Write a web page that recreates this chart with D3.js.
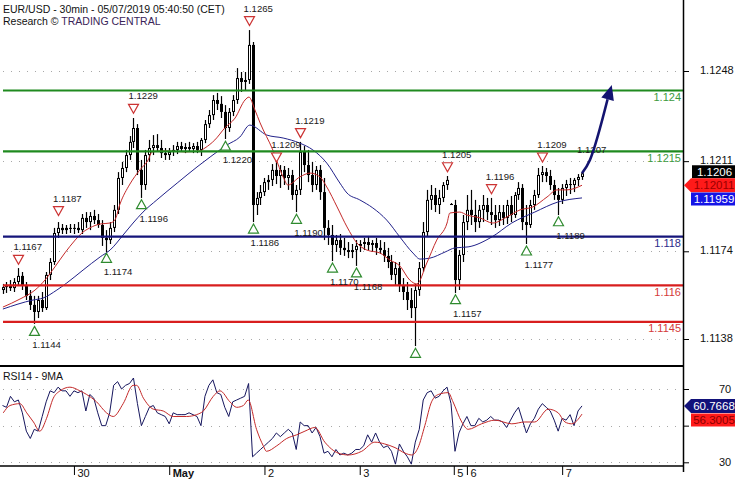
<!DOCTYPE html>
<html><head><meta charset="utf-8">
<script src="https://cdn.jsdelivr.net/npm/d3@7"></script>
<style>body{margin:0;background:#fff}svg{display:block}</style>
</head><body><svg id="c" width="735" height="480"></svg>
<script>
// ---------- DATA (hourly bars) ----------
const opens=[1.11581,1.11593,1.11602,1.11589,1.11614,1.11639,1.11598,1.11557,1.11520,1.11491,
1.11540,1.11507,1.11643,1.11696,1.11815,1.11836,1.11827,1.11836,1.11832,1.11836,
1.11827,1.11877,1.11860,1.11885,1.11868,1.11848,1.11795,1.11786,1.11836,1.11910,
1.12041,1.12082,1.12135,1.12189,1.12246,1.12074,1.12012,1.12135,1.12164,1.12176,
1.12164,1.12143,1.12135,1.12148,1.12156,1.12172,1.12160,1.12168,1.12160,1.12172,
1.12156,1.12197,1.12262,1.12299,1.12361,1.12345,1.12312,1.12246,1.12312,1.12361,
1.12451,1.12435,1.12443,1.12587,1.11930,1.11959,1.11983,1.12024,1.12033,1.12074,
1.12049,1.12074,1.12041,1.12053,1.11971,1.11992,1.12148,1.12094,1.12053,1.12012,
1.12074,1.11983,1.11836,1.11807,1.11766,1.11786,1.11754,1.11745,1.11737,1.11745,
1.11762,1.11770,1.11778,1.11766,1.11774,1.11754,1.11745,1.11721,1.11696,1.11643,
1.11671,1.11598,1.11573,1.11540,1.11507,1.11581,1.11671,1.11819,1.11951,1.11971,
1.11930,1.11959,1.12012,1.11934,1.11930,1.11622,1.11725,1.11860,1.11910,1.11889,
1.11860,1.11910,1.11930,1.11901,1.11889,1.11868,1.11901,1.11877,1.11930,1.11889,
1.11971,1.12000,1.11860,1.11848,1.11930,1.11971,1.12053,1.12065,1.12049,1.12012,
1.11971,1.11951,1.12000,1.12016,1.12012,1.12033,1.12045];
const highs=[1.11606,1.11614,1.11622,1.11630,1.11671,1.11655,1.11614,1.11581,1.11557,1.11557,
1.11573,1.11655,1.11712,1.11836,1.11860,1.11852,1.11848,1.11852,1.11852,1.11860,
1.11893,1.11901,1.11901,1.11910,1.11893,1.11868,1.11827,1.11860,1.11930,1.12065,
1.12107,1.12156,1.12213,1.12287,1.12262,1.12115,1.12156,1.12197,1.12217,1.12221,
1.12197,1.12164,1.12164,1.12176,1.12189,1.12189,1.12184,1.12189,1.12184,1.12189,
1.12205,1.12279,1.12320,1.12381,1.12390,1.12377,1.12340,1.12328,1.12381,1.12492,
1.12476,1.12476,1.12648,1.12599,1.11983,1.12012,1.12041,1.12053,1.12098,1.12107,
1.12094,1.12090,1.12082,1.12074,1.12012,1.12189,1.12172,1.12156,1.12107,1.12090,
1.12094,1.12041,1.11868,1.11848,1.11807,1.11811,1.11795,1.11778,1.11770,1.11786,
1.11786,1.11795,1.11803,1.11786,1.11795,1.11786,1.11778,1.11754,1.11725,1.11696,
1.11696,1.11630,1.11614,1.11589,1.11606,1.11696,1.11860,1.11992,1.12012,1.12000,
1.11992,1.12024,1.12049,1.11938,1.11951,1.11745,1.11889,1.11971,1.11992,1.11951,
1.11930,1.11971,1.11959,1.11959,1.11930,1.11930,1.11930,1.11951,1.11967,1.11983,
1.12024,1.12016,1.11930,1.11951,1.11992,1.12082,1.12090,1.12082,1.12074,1.12033,
1.12000,1.12016,1.12033,1.12041,1.12041,1.12057,1.12065];
const lows=[1.11565,1.11569,1.11577,1.11573,1.11598,1.11581,1.11540,1.11499,1.11442,1.11466,
1.11491,1.11499,1.11622,1.11684,1.11795,1.11811,1.11811,1.11815,1.11811,1.11815,
1.11811,1.11836,1.11827,1.11852,1.11836,1.11762,1.11737,1.11770,1.11819,1.11893,
1.12012,1.12065,1.12115,1.12164,1.12053,1.11959,1.11992,1.12107,1.12135,1.12148,
1.12123,1.12115,1.12115,1.12131,1.12139,1.12148,1.12143,1.12148,1.12143,1.12143,
1.12131,1.12184,1.12246,1.12279,1.12320,1.12287,1.12201,1.12230,1.12295,1.12345,
1.12394,1.12402,1.12427,1.11860,1.11889,1.11930,1.11967,1.11992,1.12008,1.12016,
1.12000,1.12012,1.11992,1.11951,1.11901,1.11971,1.12065,1.12024,1.11983,1.11992,
1.11951,1.11786,1.11766,1.11700,1.11737,1.11725,1.11721,1.11712,1.11712,1.11680,
1.11737,1.11745,1.11745,1.11737,1.11725,1.11729,1.11696,1.11671,1.11622,1.11602,
1.11573,1.11540,1.11499,1.11466,1.11351,1.11557,1.11655,1.11803,1.11910,1.11901,
1.11893,1.11942,1.11992,1.11930,1.11569,1.11581,1.11696,1.11827,1.11848,1.11819,
1.11836,1.11860,1.11868,1.11848,1.11836,1.11844,1.11848,1.11852,1.11860,1.11877,
1.11951,1.11827,1.11770,1.11836,1.11910,1.11959,1.12024,1.12024,1.11992,1.11951,
1.11889,1.11934,1.11967,1.11975,1.11983,1.12008,1.12033];
const closes=[1.11593,1.11602,1.11589,1.11614,1.11639,1.11598,1.11557,1.11520,1.11491,1.11540,
1.11507,1.11643,1.11696,1.11815,1.11836,1.11827,1.11836,1.11832,1.11836,1.11827,
1.11877,1.11860,1.11885,1.11868,1.11848,1.11795,1.11786,1.11836,1.11910,1.12041,
1.12082,1.12135,1.12189,1.12246,1.12074,1.12012,1.12135,1.12164,1.12176,1.12164,
1.12143,1.12135,1.12148,1.12156,1.12172,1.12160,1.12168,1.12160,1.12172,1.12156,
1.12197,1.12262,1.12299,1.12361,1.12345,1.12312,1.12246,1.12312,1.12361,1.12451,
1.12435,1.12443,1.12587,1.11930,1.11959,1.11983,1.12024,1.12033,1.12074,1.12049,
1.12074,1.12041,1.12053,1.11971,1.11992,1.12148,1.12094,1.12053,1.12012,1.12074,
1.11983,1.11836,1.11807,1.11766,1.11786,1.11754,1.11745,1.11737,1.11745,1.11762,
1.11770,1.11778,1.11766,1.11774,1.11754,1.11745,1.11721,1.11696,1.11643,1.11671,
1.11598,1.11573,1.11540,1.11507,1.11581,1.11671,1.11819,1.11951,1.11971,1.11930,
1.11959,1.12012,1.12033,1.11934,1.11622,1.11725,1.11860,1.11910,1.11889,1.11860,
1.11910,1.11930,1.11901,1.11889,1.11868,1.11901,1.11877,1.11930,1.11889,1.11971,
1.12000,1.11860,1.11848,1.11930,1.11971,1.12053,1.12065,1.12049,1.12012,1.11971,
1.11951,1.12000,1.12016,1.12012,1.12033,1.12045,1.12060];

// moving averages: [bar index, value]
const redMA=[[0.1,1.11511],[4.4,1.11544],[8.2,1.11581],[10.7,1.11622],[13.2,1.11676],[15.7,1.11733],[18.3,1.11786],[20,1.11815],[22,1.11836],[24.6,1.11852],[27.1,1.11856],[28.3,1.11868],[29.6,1.11934],[32.1,1.12016],[34.6,1.12074],[36.7,1.12115],[37.7,1.12148],[40.9,1.12152],[46,1.12148],[49.7,1.12152],[51,1.12164],[53.5,1.12197],[56,1.12246],[58.6,1.12287],[61.1,1.12361],[62.1,1.12373],[63.6,1.12320],[64.9,1.12267],[68.1,1.12156],[70.7,1.12045],[71.9,1.12012],[74.9,1.12045],[77.5,1.12061],[80,1.12045],[81.7,1.12004],[84.3,1.11922],[86.8,1.11840],[89.3,1.11774],[91.8,1.11745],[95.1,1.11733],[97.6,1.11704],[100.1,1.11680],[102.6,1.11622],[104.4,1.11606],[106.9,1.11692],[109.4,1.11786],[112,1.11856],[112.7,1.11897],[115.2,1.11901],[117,1.11889],[120.3,1.11877],[123.5,1.11856],[127.1,1.11881],[130.4,1.11910],[133.6,1.11922],[137.2,1.11963],[139.7,1.11992],[142.2,1.11992],[146,1.12011]];
const blueMA=[[0.1,1.11503],[7.7,1.11540],[10.2,1.11548],[13.7,1.11581],[16.2,1.11610],[20.3,1.11663],[24.6,1.11717],[27.1,1.11745],[30.4,1.11807],[32.9,1.11856],[35.4,1.11901],[38.9,1.11951],[44,1.12020],[49,1.12086],[52.3,1.12127],[56.5,1.12176],[59.8,1.12209],[62.3,1.12258],[66.6,1.12217],[70.7,1.12205],[74.9,1.12184],[78.2,1.12156],[81.7,1.12102],[85,1.12020],[86.8,1.11979],[90,1.11951],[93.3,1.11918],[96.8,1.11868],[100.1,1.11799],[103.4,1.11733],[105.2,1.11708],[107.7,1.11712],[111.5,1.11737],[114,1.11754],[117.3,1.11758],[123.3,1.11799],[128.3,1.11856],[134.1,1.11901],[139.9,1.11942],[146,1.11959]];

const rsi=[61,60,66,63,64,57,47,43,48,47, 55,63,69,68,71,69,69,66,69,68,
69,58,67,65,57,50,50,57,72,74, 70,72,73,76,62,50,55,60,61,57,
56,55,51,57,56,56,56,57,56,55, 50,66,72,75,68,67,60,55,63,64,
65,66,73,33,35,37,39,41,43,46, 44,46,48,46,37,52,50,50,46,49,
44,35,36,33,37,34,35,34,35,37, 37,39,45,41,46,41,38,39,36,29,
40,36,33,29,41,48,64,68,69,65, 66,69,71,62,36,46,51,55,50,50,
54,52,53,55,53,53,52,49,53,57, 60,53,46,51,54,59,62,60,58,53,
47,54,53,56,50,58,60.7668];
const rsiMA=[[0.2,57],[1.9,61],[4.4,62],[6.1,57],[7.8,52],[9.4,47],[11.1,54],[12.8,65],[14.5,69],[17,71],[19.5,69],[21.2,67],[23.7,63],[26.2,57],[27.9,55],[30.4,62],[32.9,72],[33.8,72],[35.5,65],[38,59],[40.5,58],[43,55],[46.4,55],[48.9,56],[50.6,58],[53.1,66],[54.8,69],[57.3,63],[59,60],[60.7,61],[61.9,64],[64,48],[65.7,39],[66.5,36],[69.1,39],[71.6,43],[74.1,45],[76.2,47],[78.7,49],[81.2,41],[84.6,35],[87.1,34],[90.5,36],[93.8,41],[96.3,40],[98.9,38],[101.4,35],[103.1,34],[104.7,38],[106.4,50],[108.1,63],[109.8,67],[112.3,68],[113.5,63],[115.7,52],[117.3,48],[120.7,51],[124.1,53],[128.3,51],[131.6,52],[134.1,52],[137.5,59],[140,57],[141.7,52],[143.4,51],[146,56.3005]];

const levelValues=[1.124,1.1215,1.118,1.116,1.1145];
const levelLabels=["1.124","1.1215","1.118","1.116","1.1145"];
const levelTypes=["resistance","resistance","pivot","support","support"];

const markerIdx=[4,8,14,26,33,35,56,62,63,69,74,75,83,89,104,112,114,123,132,136,140];
const markerPrice=[1.1167,1.1144,1.1187,1.1174,1.1229,1.1196,1.1220,1.1265,1.1186,1.1209,1.1190,1.1219,1.1170,1.1168,1.1135,1.1205,1.1157,1.1196,1.1177,1.1209,1.1189];
const markerType=["H","L","H","L","H","L","L","H","L","H","L","H","L","L","L","H","L","H","L","H","L"];
const pendingHighIdx=146, pendingHighPrice=1.1207;

const forecastIdx=[146,148,153.5];
const forecastPrice=[1.1206,1.12115,1.12423];

const priceTicks=[1.1248,1.1211,1.1174,1.1138];
const rsiTicks=[70,50,30];
const rsiTickLabels=["70","","30"];
const dayTicks=[18,42,66,90,113.7,117,141];
const dayLabels=["30","May","2","3","5","6","7"];

const lastClose=1.1206, lastRed=1.12011, lastBlue=1.11959, lastRSI=60.7668, lastRSIMA=56.3005;

// ---------- DRAWING ----------
const FONT='"Liberation Sans", Arial, sans-serif';
const svg=d3.select("#c");
const W=735,H=480,AX=683,MAINB=365;
const x=d3.scaleLinear().domain([0,146]).range([2.5,582]);
const y=d3.scaleLinear().domain([1.1138,1.1248]).range([339,71]);
const yr=d3.scaleLinear().domain([30,70]).range([462.3,389]);

svg.append("rect").attr("width",W).attr("height",H).attr("fill","#fff");
const defs=svg.append("defs");
defs.append("clipPath").attr("id","mc").append("rect").attr("x",0).attr("y",0).attr("width",AX).attr("height",MAINB);
defs.append("clipPath").attr("id","rc").append("rect").attr("x",0).attr("y",367).attr("width",AX).attr("height",98);

const main=svg.append("g").attr("clip-path","url(#mc)");
// dotted grid
main.selectAll(".g").data(priceTicks).join("line")
  .attr("x1",3).attr("x2",AX).attr("y1",d=>Math.round(y(d))+0.5).attr("y2",d=>Math.round(y(d))+0.5)
  .attr("stroke","#a8a8a8").attr("stroke-dasharray","1,7");

// candles
const bars=closes.map((c,i)=>({i,o:opens[i],h:highs[i],l:lows[i],c}));
main.selectAll(".wk").data(bars).join("line")
  .attr("x1",d=>Math.round(x(d.i))+0.5).attr("x2",d=>Math.round(x(d.i))+0.5)
  .attr("y1",d=>y(d.h)).attr("y2",d=>y(d.l)).attr("stroke","#000").attr("stroke-width",1.2);
main.selectAll(".bd").data(bars).join("rect")
  .attr("x",d=>Math.round(x(d.i))-1).attr("width",3)
  .attr("y",d=>y(Math.max(d.o,d.c))).attr("height",d=>Math.max(1,Math.abs(y(d.o)-y(d.c))))
  .attr("fill","#000");
main.selectAll(".hl").data(bars.filter(d=>d.c>d.o && y(d.o)-y(d.c)>2.5)).join("rect")
  .attr("x",d=>Math.round(x(d.i))).attr("width",1)
  .attr("y",d=>y(d.c)+1).attr("height",d=>y(d.o)-y(d.c)-2).attr("fill","#fff");

// moving averages
const lineP=d3.line().x(d=>x(d[0])).y(d=>y(d[1])).curve(d3.curveMonotoneX);
main.append("path").datum(blueMA).attr("d",lineP).attr("fill","none").attr("stroke","#22228a").attr("stroke-width",1);
main.append("path").datum(redMA).attr("d",lineP).attr("fill","none").attr("stroke","#c42a2a").attr("stroke-width",1);

// levels
const levelColor={resistance:"#1f8a1f",pivot:"#15157a",support:"#d81e1e"};
const labelColor={resistance:"#3d9a3d",pivot:"#2b2b8a",support:"#d43a3a"};
main.selectAll(".lv").data(levelValues).join("line")
  .attr("x1",3).attr("x2",AX).attr("y1",d=>y(d)).attr("y2",d=>y(d))
  .attr("stroke",(d,i)=>levelColor[levelTypes[i]]).attr("stroke-width",2.2);
main.selectAll(".lvt").data(levelValues).join("text")
  .attr("x",AX-2).attr("y",d=>y(d)+10.5).attr("text-anchor","end")
  .attr("font-family",FONT).attr("font-size",11)
  .attr("fill",(d,i)=>labelColor[levelTypes[i]]).text((d,i)=>levelLabels[i]);

// markers
const mk=markerIdx.map((d,i)=>({i:d,p:markerPrice[i],t:markerType[i]}));
main.selectAll(".tri").data(mk).join("path")
  .attr("d",d=>{const cx=Math.round(x(d.i))+0.5,py=y(d.p);
    if(d.t==="H"){const a=py-13,b=py-4;return `M${cx-5},${a}L${cx+5},${a}L${cx},${b}Z`;}
    const a=py+2,b=py+11;return `M${cx},${a}L${cx+5},${b}L${cx-5},${b}Z`;})
  .attr("fill","#fff").attr("stroke",d=>d.t==="H"?"#cc3333":"#2e8a2e").attr("stroke-width",1.2);
const labY=d=>d.t==="H"?y(d.p)-18:y(d.p)+24;
main.selectAll(".mt").data(mk.filter(d=>labY(d)<MAINB)).join("text")
  .attr("x",d=>x(d.i)-(d.t==="H"?5:2)).attr("y",labY)
  .attr("font-family",FONT).attr("font-size",9.6).attr("fill","#1a1a1a")
  .text(d=>d.p.toFixed(4));
main.append("text").attr("x",x(pendingHighIdx)-5).attr("y",y(pendingHighPrice)-18)
  .attr("font-family",FONT).attr("font-size",9.6).attr("fill","#1a1a1a").text(pendingHighPrice.toFixed(4));

// forecast arrow
const fp=forecastIdx.map((d,i)=>[x(d),y(forecastPrice[i])]);
const tip=fp[fp.length-1], prv=fp[fp.length-2];
let dx=tip[0]-prv[0], dy=tip[1]-prv[1]; const L=Math.hypot(dx,dy); dx/=L; dy/=L;
const base=[tip[0]-dx*15,tip[1]-dy*15];
const shaft=fp.slice(0,-1).concat([base]);
main.append("path").datum(shaft).attr("d",d3.line().curve(d3.curveCatmullRom))
  .attr("fill","none").attr("stroke","#141470").attr("stroke-width",2.6);
main.append("path").attr("d",`M${tip[0]},${tip[1]}L${base[0]-dy*6.5},${base[1]+dx*6.5}L${base[0]+dy*6.5},${base[1]-dx*6.5}Z`)
  .attr("fill","#141470");

// RSI panel
const rg=svg.append("g").attr("clip-path","url(#rc)");
rg.selectAll(".g").data(rsiTicks).join("line")
  .attr("x1",3).attr("x2",AX).attr("y1",d=>Math.round(yr(d))+0.5).attr("y2",d=>Math.round(yr(d))+0.5)
  .attr("stroke","#a8a8a8").attr("stroke-dasharray","1,7");
rg.append("path").datum(rsi).attr("d",d3.line().x((d,i)=>x(i)).y(d=>yr(d)))
  .attr("fill","none").attr("stroke","#16165e").attr("stroke-width",1);
rg.append("path").datum(rsiMA).attr("d",d3.line().x(d=>x(d[0])).y(d=>yr(d[1])).curve(d3.curveMonotoneX))
  .attr("fill","none").attr("stroke","#c42a2a").attr("stroke-width",1);
svg.append("text").attr("x",3).attr("y",380).attr("font-family",FONT).attr("font-size",10.5).attr("fill","#111").text("RSI14 - 9MA");

// frame lines
svg.append("line").attr("x1",0).attr("x2",AX).attr("y1",366).attr("y2",366).attr("stroke","#000").attr("stroke-width",2);
svg.append("line").attr("x1",0).attr("x2",AX).attr("y1",466).attr("y2",466).attr("stroke","#000").attr("stroke-width",1.5);
svg.append("line").attr("x1",AX+0.5).attr("x2",AX+0.5).attr("y1",0).attr("y2",472).attr("stroke","#000").attr("stroke-width",1.5);

// axes
const styleAxis=g=>{g.select(".domain").remove();g.attr("font-family",FONT).attr("font-size",11);g.selectAll("text").attr("fill","#111");};
svg.append("g").attr("transform",`translate(${AX},0)`)
  .call(d3.axisRight(y).tickValues(priceTicks).tickSize(6).tickPadding(11).tickFormat(d3.format(".4f"))).call(styleAxis)
  .call(g=>g.selectAll("text").attr("dy","0.22em"));
svg.append("g").attr("transform",`translate(${AX},0)`)
  .call(d3.axisRight(yr).tickValues(rsiTicks).tickSize(6).tickPadding(30).tickFormat((d,i)=>rsiTickLabels[i])).call(styleAxis);
svg.append("g").attr("transform","translate(0,466)")
  .call(d3.axisBottom(x).tickValues(dayTicks).tickSize(9).tickFormat((d,i)=>dayLabels[i])).call(styleAxis)
  .call(g=>g.selectAll("text").attr("text-anchor","start").attr("x",3).attr("y",3)
    .attr("font-weight",(d,i)=>dayLabels[i]==="May"?"bold":"normal"));

// value boxes
function box(yc,txt,fill,tcol,left,arrow){
  const g=svg.append("g");
  const p=arrow?`M${AX+1},${yc}L${left},${yc-7}L735,${yc-7}L735,${yc+7}L${left},${yc+7}Z`
              :`M${left},${yc-6.5}L735,${yc-6.5}L735,${yc+6.5}L${left},${yc+6.5}Z`;
  g.append("path").attr("d",p).attr("fill",fill);
  g.append("text").attr("x",(left+735)/2+1).attr("y",yc+4).attr("text-anchor","middle")
    .attr("font-family",FONT).attr("font-size",11.5).attr("fill",tcol).text(txt);
}
box(y(lastClose)-1.5,lastClose.toFixed(4),"#000","#fff",692,false);
box(y(lastRed),lastRed.toFixed(5),"#ff1a1a","#9a0000",691,true);
box(y(lastBlue)+1,lastBlue.toFixed(5),"#1414e6","#fff",691,false);
box(yr(lastRSI),lastRSI.toFixed(4),"#12127a","#fff",691,true);
box(yr(lastRSIMA)+6,lastRSIMA.toFixed(4),"#ff1a1a","#8a0000",691,false);

// header
svg.append("text").attr("x",3).attr("y",13).attr("font-family",FONT).attr("font-size",10.5).attr("fill","#111")
  .text("EUR/USD - 30min - 05/07/2019 05:40:50 (CET)");
const t2=svg.append("text").attr("x",3).attr("y",25).attr("font-family",FONT).attr("font-size",10.5).attr("fill","#111");
t2.append("tspan").text("Research © ");
t2.append("tspan").attr("fill","#3a2458").text("TRADING CENTRAL");
</script></body></html>
